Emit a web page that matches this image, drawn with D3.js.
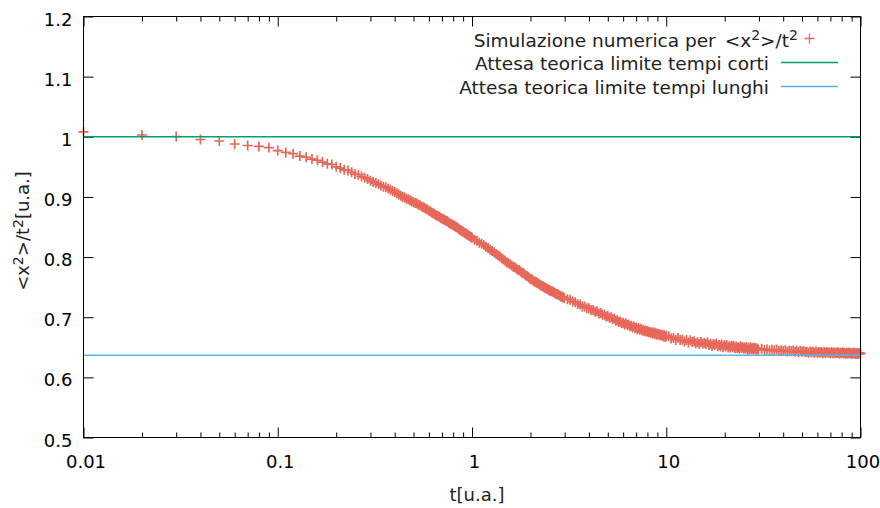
<!DOCTYPE html>
<html>
<head>
<meta charset="utf-8">
<script src="https://cdn.jsdelivr.net/npm/d3@7"></script>
<style>
  body { margin: 0; background: #fff; }
  svg { display: block; font-family: "DejaVu Sans", sans-serif; }
  .tick text { font-size: 18px; fill: #000; font-family: "DejaVu Sans", sans-serif; }
  .tick line { stroke: #000; }
</style>
</head>
<body>
<svg width="880" height="508"></svg>
<script>
// how the simulation was sampled: [first t, step] for each block of values below
let tBlocks = [[0.01, 0.01], [1.03, 0.03], [3.1, 0.1], [10.3, 0.3], [31, 1]];

// <x^2>/t^2, block by block
let msdShort = [
  1.008, 1.003, 1.0005, 0.9955, 0.993, 0.988, 0.9855, 0.984, 0.982, 0.977,
  0.974, 0.972, 0.968, 0.966, 0.963, 0.961, 0.958, 0.955, 0.954, 0.950,
  0.948, 0.945, 0.944, 0.941, 0.938, 0.937, 0.934, 0.932, 0.930, 0.927,
  0.925, 0.923, 0.921, 0.919, 0.917, 0.916, 0.914, 0.912, 0.910, 0.908,
  0.906, 0.904, 0.902, 0.900, 0.899, 0.897, 0.896, 0.894, 0.893, 0.891,
  0.890, 0.889, 0.887, 0.886, 0.884, 0.883, 0.882, 0.880, 0.879, 0.877,
  0.876, 0.874, 0.873, 0.872, 0.870, 0.869, 0.868, 0.867, 0.865, 0.864,
  0.863, 0.862, 0.861, 0.860, 0.859, 0.857, 0.856, 0.855, 0.854, 0.853,
  0.852, 0.851, 0.850, 0.849, 0.848, 0.846, 0.845, 0.844, 0.843, 0.842,
  0.841, 0.840, 0.839, 0.838, 0.837, 0.836, 0.835, 0.834, 0.833, 0.832
];
let msdMid = [
  0.829, 0.827, 0.824, 0.822, 0.820, 0.817, 0.815, 0.812, 0.810, 0.808,
  0.805, 0.803, 0.801, 0.798, 0.796, 0.794,
  0.791, 0.790, 0.788, 0.786, 0.784, 0.783, 0.781, 0.779, 0.778, 0.776,
  0.774, 0.773, 0.771, 0.769, 0.768, 0.766, 0.764,
  0.763, 0.762, 0.760, 0.759, 0.758, 0.757, 0.756, 0.754, 0.753, 0.752,
  0.751, 0.750, 0.749, 0.748, 0.747, 0.746, 0.745,
  0.744, 0.743, 0.743, 0.742, 0.741, 0.740, 0.739, 0.738, 0.738, 0.737,
  0.736, 0.735, 0.734, 0.734, 0.733, 0.732
];
let msdLate = [
  0.730, 0.729, 0.726, 0.725, 0.722, 0.721, 0.718, 0.718, 0.715, 0.715,
  0.712, 0.712, 0.709, 0.710, 0.706, 0.707, 0.704, 0.704, 0.701, 0.702,
  0.699, 0.700, 0.697, 0.698, 0.694, 0.695, 0.692, 0.693, 0.690, 0.691,
  0.688, 0.690, 0.687, 0.688, 0.685, 0.686, 0.683, 0.685, 0.682, 0.683,
  0.680, 0.682, 0.679, 0.681, 0.678, 0.679, 0.677, 0.678, 0.676, 0.677,
  0.675, 0.676, 0.674, 0.675, 0.673, 0.675, 0.672, 0.674, 0.671, 0.673,
  0.671, 0.672, 0.670, 0.671, 0.669, 0.671, 0.668, 0.670, 0.667, 0.669
];
let msdLong = [
  0.6683, 0.6646, 0.6656, 0.6623, 0.6660, 0.6621, 0.6624, 0.6598, 0.6622, 0.6580,
  0.6619, 0.6588, 0.6599, 0.6568, 0.6584, 0.6553, 0.6589, 0.6557, 0.6577, 0.6556,
  0.6578, 0.6539, 0.6557, 0.6526, 0.6555, 0.6538, 0.6561, 0.6518, 0.6538, 0.6517,
  0.6545, 0.6500, 0.6532, 0.6511, 0.6537, 0.6497, 0.6517, 0.6497, 0.6531, 0.6501,
  0.6521, 0.6483, 0.6513, 0.6490, 0.6500, 0.6474, 0.6519, 0.6489, 0.6506, 0.6474,
  0.6497, 0.6475, 0.6506, 0.6460, 0.6489, 0.6464, 0.6502, 0.6471, 0.6488, 0.6463,
  0.6494, 0.6472, 0.6489, 0.6452, 0.6475, 0.6458
];
let msdTail = [
  0.6476, 0.6455, 0.6464, 0.6445, 0.6461, 0.6450, 0.6462, 0.6438, 0.6448, 0.6438,
  0.6450, 0.6428, 0.6442, 0.6433, 0.6445, 0.6425, 0.6438, 0.6421, 0.6441, 0.6426,
  0.6435, 0.6420, 0.6427, 0.6411, 0.6432, 0.6417, 0.6426, 0.6411, 0.6431, 0.6408,
  0.6421, 0.6414, 0.6423, 0.6402, 0.6420, 0.6407, 0.6422, 0.6408, 0.6413, 0.6400,
  0.6422, 0.6401, 0.6412, 0.6402, 0.6415, 0.6405, 0.6416, 0.6394, 0.6411, 0.6401,
  0.6416, 0.6396, 0.6405, 0.6393, 0.6408, 0.6396, 0.6412, 0.6397, 0.6409, 0.6388,
  0.6404, 0.6398, 0.6411, 0.6389, 0.6405, 0.6390, 0.6400, 0.6392, 0.6407, 0.6393
];

// theoretical limits
let shortLimit = 1;
let longLimit = 0.6366; // 2/pi

let xTicks = [0.01, 0.1, 1, 10, 100];
let xTickLabels = ["0.01", "0.1", "1", "10", "100"];
let yTicks = [0.5, 0.6, 0.7, 0.8, 0.9, 1, 1.1, 1.2];
let yTickLabels = ["0.5", "0.6", "0.7", "0.8", "0.9", "1", "1.1", "1.2"];
let legendLabels = ["Simulazione numerica per", "Attesa teorica limite tempi corti", "Attesa teorica limite tempi lunghi"];

let colPoints = "#e6685a";
let colShort = "#009e73";
let colLong = "#56b4e9";
let cross = "M-5,0H5M0,-5V5";

// plot box (window.top is taken, so prefix these)
let boxLeft = 83.5, boxRight = 860.5, boxTop = 16.5, boxBottom = 437.5;

let svg = d3.select("svg");

let x = d3.scaleLog().domain([0.01, 100]).range([boxLeft, boxRight]);
let y = d3.scaleLinear().domain([0.5, 1.2]).range([boxBottom, boxTop]);

// build the points from the blocks
let points = [];
[msdShort, msdMid, msdLate, msdLong, msdTail].forEach(function (vals, b) {
    vals.forEach(function (v, i) {
        points.push({ t: +(tBlocks[b][0] + i * tBlocks[b][1]).toFixed(2), v: v });
    });
});

// minor ticks on the log axis = the 2..9 ticks of each decade
let xMinor = x.ticks().filter(d => !xTicks.some(m => Math.abs(m - d) < 1e-9));

// bottom axis with labels
let gx = svg.append("g")
    .attr("transform", "translate(0," + boxBottom + ")")
    .call(d3.axisBottom(x).tickValues(xTicks).tickSize(-10).tickSizeOuter(0)
        .tickFormat((d, i) => xTickLabels[i]));
gx.select(".domain").remove();
gx.selectAll(".tick text").attr("y", 30.5).attr("dy", null).attr("x", 2);

let gxm = svg.append("g")
    .attr("transform", "translate(0," + boxBottom + ")")
    .call(d3.axisBottom(x).tickValues(xMinor).tickSize(-5).tickSizeOuter(0).tickFormat(""));
gxm.select(".domain").remove();

// top mirror
let gt = svg.append("g")
    .attr("transform", "translate(0," + boxTop + ")")
    .call(d3.axisTop(x).tickValues(xTicks).tickSize(-10).tickSizeOuter(0).tickFormat(""));
gt.select(".domain").remove();
let gtm = svg.append("g")
    .attr("transform", "translate(0," + boxTop + ")")
    .call(d3.axisTop(x).tickValues(xMinor).tickSize(-5).tickSizeOuter(0).tickFormat(""));
gtm.select(".domain").remove();

// left axis with labels
let gy = svg.append("g")
    .attr("transform", "translate(" + boxLeft + ",0)")
    .call(d3.axisLeft(y).tickValues(yTicks).tickSize(-10).tickSizeOuter(0)
        .tickFormat((d, i) => yTickLabels[i]));
gy.select(".domain").remove();
gy.selectAll(".tick text").attr("x", -11).attr("dy", null).attr("y", 8.5);

// right mirror
let gr = svg.append("g")
    .attr("transform", "translate(" + boxRight + ",0)")
    .call(d3.axisRight(y).tickValues(yTicks).tickSize(-10).tickSizeOuter(0).tickFormat(""));
gr.select(".domain").remove();

// simulation points as crosses
svg.append("g")
    .selectAll("path")
    .data(points)
    .join("path")
    .attr("transform", d => "translate(" + x(d.t) + "," + y(d.v) + ")")
    .attr("d", cross)
    .style("fill", "none")
    .style("stroke", colPoints)
    .style("stroke-width", 1.7);

// theory lines
let line = d3.line().x(d => x(d[0])).y(d => y(d[1]));
svg.append("path")
    .attr("d", line([[0.01, shortLimit], [100, shortLimit]]))
    .style("fill", "none").style("stroke", colShort).style("stroke-width", 1.5);
svg.append("path")
    .attr("d", line([[0.01, longLimit], [100, longLimit]]))
    .style("fill", "none").style("stroke", colLong).style("stroke-width", 1.5);

// border
svg.append("rect")
    .attr("x", boxLeft).attr("y", boxTop)
    .attr("width", boxRight - boxLeft).attr("height", boxBottom - boxTop)
    .style("fill", "none").style("stroke", "#000").style("stroke-width", 1);

// legend
let lg = svg.append("g").style("font-size", "18.5px").style("fill", "#222");
let t1 = lg.append("text").attr("x", 798).attr("y", 46.5).attr("text-anchor", "end");
t1.append("tspan").text(legendLabels[0]);
t1.append("tspan").attr("dx", 9).text("<x");
t1.append("tspan").attr("dy", -6.5).style("font-size", "14px").text("2");
t1.append("tspan").attr("dy", 6.5).text(">/t");
t1.append("tspan").attr("dy", -6.5).style("font-size", "14px").text("2");

lg.append("path")
    .attr("transform", "translate(809.5,38.5)")
    .attr("d", cross)
    .style("fill", "none").style("stroke", colPoints).style("stroke-width", 1.3);

lg.append("text").attr("x", 769).attr("y", 70.3).attr("text-anchor", "end").text(legendLabels[1]);
lg.append("text").attr("x", 769).attr("y", 94.3).attr("text-anchor", "end").text(legendLabels[2]);
lg.append("line").attr("x1", 781).attr("x2", 838).attr("y1", 62.5).attr("y2", 62.5)
    .style("stroke", colShort).style("stroke-width", 1.5);
lg.append("line").attr("x1", 781).attr("x2", 838).attr("y1", 86.5).attr("y2", 86.5)
    .style("stroke", colLong).style("stroke-width", 1.5);

// axis titles
svg.append("text")
    .attr("x", 477).attr("y", 500.5)
    .attr("text-anchor", "middle")
    .style("font-size", "18px").style("fill", "#222")
    .text("t[u.a.]");

let yl = svg.append("text")
    .attr("transform", "translate(28.5,231) rotate(-90)")
    .attr("text-anchor", "middle")
    .style("font-size", "18px").style("fill", "#222");
yl.append("tspan").text("<x");
yl.append("tspan").attr("dy", -6).style("font-size", "14px").text("2");
yl.append("tspan").attr("dy", 6).text(">/t");
yl.append("tspan").attr("dy", -6).style("font-size", "14px").text("2");
yl.append("tspan").attr("dy", 6).text("[u.a.]");
</script>
</body>
</html>
